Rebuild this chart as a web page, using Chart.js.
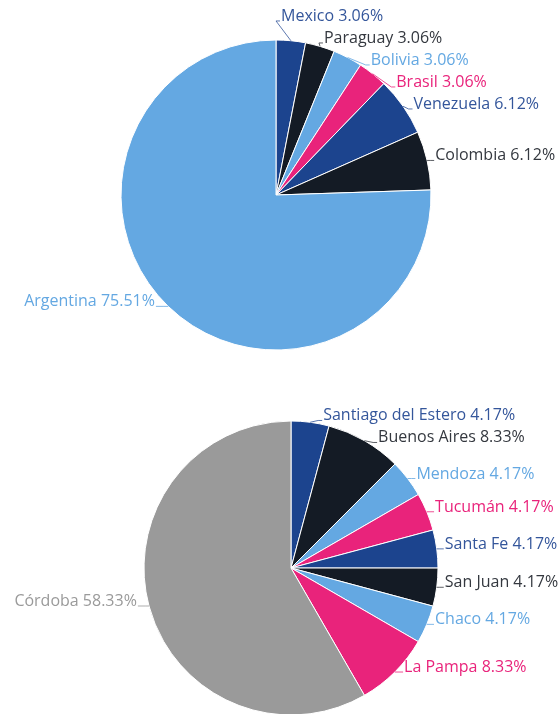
<!DOCTYPE html>
<html lang="en">
<head>
    <meta charset="UTF-8">
    <title>Distribución por país y provincia</title>
    <script src="https://cdn.jsdelivr.net/npm/chart.js"></script>
    <style>
        html, body {
            margin: 0;
            padding: 0;
            background: #fff;
            overflow: hidden;
            width: 560px;
            height: 714px;
        }
        .pie-box {
            position: absolute;
            left: 0;
            width: 560px;
        }
        #topBox { top: 0; height: 370px; }
        #bottomBox { top: 380px; height: 380px; }
    </style>
</head>
<body>
    <div class="pie-box" id="topBox"><canvas id="countryChart"></canvas></div>
    <div class="pie-box" id="bottomBox"><canvas id="provinceChart"></canvas></div>

    <script>
        // data
        const countries = ["Mexico", "Paraguay", "Bolivia", "Brasil", "Venezuela", "Colombia", "Argentina"];
        const countryShares = [3.06, 3.06, 3.06, 3.06, 6.12, 6.12, 75.51];

        const provinces = ["Santiago del Estero", "Buenos Aires", "Mendoza", "Tucumán", "Santa Fe", "San Juan", "Chaco", "La Pampa", "Córdoba"];
        const provinceShares = [4.17, 8.33, 4.17, 4.17, 4.17, 4.17, 4.17, 8.33, 58.33];

        const DARK_BLUE = "#1c448e";
        const BLACK = "#141b25";
        const LIGHT_BLUE = "#64a8e2";
        const PINK = "#e9237b";
        const GRAY = "#9a9a9a";

        const countryColors = [DARK_BLUE, BLACK, LIGHT_BLUE, PINK, DARK_BLUE, BLACK, LIGHT_BLUE];
        const provinceColors = [DARK_BLUE, BLACK, LIGHT_BLUE, PINK, DARK_BLUE, BLACK, LIGHT_BLUE, PINK, GRAY];

        // label text is a touch softer than the slice itself
        function textColor(c) {
            if (c === BLACK) return "#34383f";
            if (c === DARK_BLUE) return "#34569b";
            return c;
        }

        // outside labels with elbow leader lines, spread so they don't overlap
        const outsideLabels = {
            id: "outsideLabels",
            afterDraw(chart) {
                const ctx = chart.ctx;
                const meta = chart.getDatasetMeta(0);
                const ds = chart.data.datasets[0];
                const gap = 22;
                const left = [], right = [];

                meta.data.forEach((arc, i) => {
                    const a = (arc.startAngle + arc.endAngle) / 2;
                    const r = arc.outerRadius;
                    const item = {
                        i: i,
                        cx: arc.x, cy: arc.y, r: r,
                        ex: arc.x + Math.cos(a) * r,
                        ey: arc.y + Math.sin(a) * r,
                        dir: Math.cos(a) >= 0 ? 1 : -1
                    };
                    item.y = item.ey;
                    (item.dir > 0 ? right : left).push(item);
                });

                function spread(items) {
                    items.sort((a, b) => a.y - b.y);
                    const groups = [];
                    items.forEach(it => {
                        groups.push({ items: [it], top: it.y });
                        while (groups.length > 1) {
                            const g = groups[groups.length - 1];
                            const p = groups[groups.length - 2];
                            if (p.top + p.items.length * gap > g.top) {
                                const all = p.items.concat(g.items);
                                let s = 0;
                                all.forEach((x, k) => { s += x.y - k * gap; });
                                groups.splice(-2, 2, { items: all, top: s / all.length });
                            } else break;
                        }
                    });
                    groups.forEach(g => g.items.forEach((it, k) => { it.ly = g.top + k * gap; }));
                }
                spread(left);
                spread(right);

                ctx.save();
                ctx.font = "16px 'Open Sans'";
                ctx.lineWidth = 1;
                left.concat(right).forEach(it => {
                    const col = textColor(ds.backgroundColor[it.i]);
                    const re = it.r + 3;
                    const dy = it.ly - it.cy;
                    const dx = Math.sqrt(Math.max(re * re - dy * dy, 0));
                    const bx = it.cx + it.dir * dx;
                    const tx = bx + it.dir * (it.dir > 0 ? 4 : 8);

                    ctx.strokeStyle = col;
                    ctx.globalAlpha = 0.8;
                    ctx.beginPath();
                    ctx.moveTo(it.ex, it.ey);
                    ctx.lineTo(bx, it.ly);
                    ctx.lineTo(tx, it.ly);
                    ctx.stroke();
                    ctx.globalAlpha = 1;

                    const label = chart.data.labels[it.i] + " " + ds.data[it.i].toFixed(2) + "%";
                    ctx.fillStyle = col;
                    ctx.textAlign = it.dir > 0 ? "left" : "right";
                    ctx.textBaseline = "alphabetic";
                    ctx.fillText(label, tx + it.dir * 1, it.ly);
                });
                ctx.restore();
            }
        };

        function makePie(canvasId, labels, values, colors, radius, padding) {
            return new Chart(document.getElementById(canvasId), {
                type: "pie",
                data: {
                    labels: labels,
                    datasets: [{
                        data: values,
                        backgroundColor: colors,
                        borderColor: "#ffffff",
                        borderWidth: 1
                    }]
                },
                options: {
                    responsive: true,
                    maintainAspectRatio: false,
                    animation: false,
                    radius: radius,
                    layout: { padding: padding },
                    plugins: {
                        legend: { display: false },
                        tooltip: { enabled: false }
                    }
                },
                plugins: [outsideLabels]
            });
        }

        makePie("countryChart", countries, countryShares, countryColors, 155,
            { left: 121, right: 129, top: 40, bottom: 20 });
        makePie("provinceChart", provinces, provinceShares, provinceColors, 147,
            { left: 141, right: 119, top: 38, bottom: 42 });
    </script>
</body>
</html>
